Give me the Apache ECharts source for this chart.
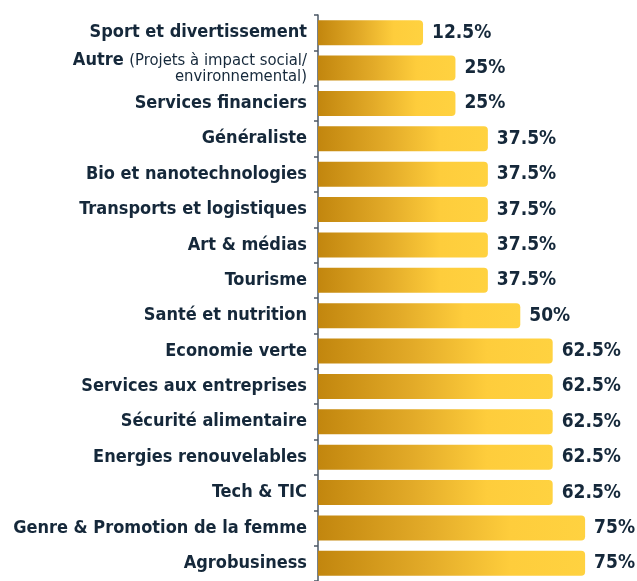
<!DOCTYPE html>
<html>
<head>
<meta charset="utf-8">
<script src="https://cdn.jsdelivr.net/npm/echarts@6/dist/echarts.min.js"></script>
<style>
  html, body { margin: 0; padding: 0; background: #fff; }
  #chart { width: 637px; height: 581px; }
</style>
</head>
<body>
<div id="chart"></div>
<script>
// Sectors, listed top to bottom
const sectors = [
  'Sport et divertissement',
  'Autre',
  'Services financiers',
  'Généraliste',
  'Bio et nanotechnologies',
  'Transports et logistiques',
  'Art & médias',
  'Tourisme',
  'Santé et nutrition',
  'Economie verte',
  'Services aux entreprises',
  'Sécurité alimentaire',
  'Energies renouvelables',
  'Tech & TIC',
  'Genre & Promotion de la femme',
  'Agrobusiness'
];

// Share of respondents per sector (%)
const shares = [12.5, 25, 25, 37.5, 37.5, 37.5, 37.5, 37.5, 50, 62.5, 62.5, 62.5, 62.5, 62.5, 75, 75];

const FONT = '"DejaVu Sans Condensed", "Liberation Sans Narrow", Roboto, sans-serif';
const INK = '#15283a';
const AXIS_START = -28;

const chart = echarts.init(document.getElementById('chart'), null, { renderer: 'canvas' });

chart.setOption({
  animation: false,
  grid: { left: 318, right: 13, top: 15, height: 573 },
  xAxis: {
    type: 'value',
    min: AXIS_START,
    max: 90,
    startValue: AXIS_START,
    show: false
  },
  yAxis: {
    type: 'category',
    inverse: true,
    data: sectors,
    axisLine: { show: true, onZero: false, lineStyle: { color: '#4b5765', width: 1.5 } },
    axisTick: { show: true, length: 4, lineStyle: { color: '#4b5765', width: 1.5 } },
    axisLabel: {
      margin: 11,
      fontFamily: FONT,
      fontWeight: 'bold',
      fontSize: 18,
      color: INK,
      formatter: function (v) {
        if (v === 'Autre') {
          return '{b|Autre} {r|(Projets à impact social/}\n{r|environnemental)}';
        }
        return v;
      },
      rich: {
        b: { fontFamily: FONT, fontWeight: 'bold', fontSize: 18, color: INK, lineHeight: 16 },
        r: { fontFamily: FONT, fontWeight: 'normal', fontSize: 16.5, color: INK, lineHeight: 15 }
      }
    }
  },
  series: [{
    type: 'bar',
    data: shares,
    barWidth: 25,
    itemStyle: {
      borderRadius: [0, 4, 4, 0],
      color: new echarts.graphic.LinearGradient(0, 0, 1, 0, [
        { offset: 0, color: '#c2860e' },
        { offset: 0.4, color: '#e2aa28' },
        { offset: 0.72, color: '#fecd3c' },
        { offset: 1, color: '#ffd240' }
      ])
    },
    label: {
      show: true,
      position: 'right',
      distance: 9,
      fontFamily: FONT,
      fontWeight: 'bold',
      fontSize: 19,
      color: INK,
      formatter: function (p) { return p.value + '%'; }
    }
  }]
});
</script>
</body>
</html>
